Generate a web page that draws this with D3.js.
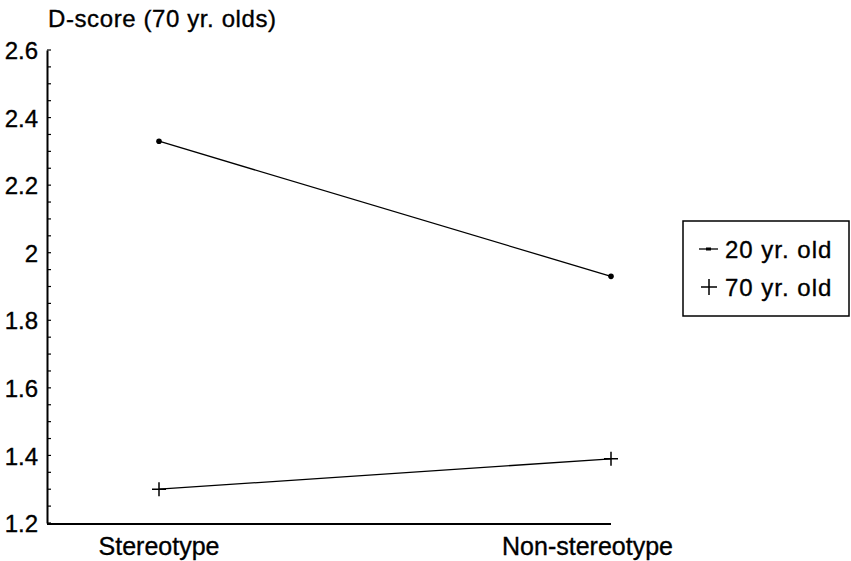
<!DOCTYPE html>
<html>
<head>
<meta charset="utf-8">
<script src="https://cdn.jsdelivr.net/npm/d3@7"></script>
<style>
  body { margin: 0; background: #fff; }
  svg text { font-family: "Liberation Sans", Arial, sans-serif; fill: #000; stroke: #000; stroke-width: 0.35; }
</style>
</head>
<body>
<svg width="851" height="561"></svg>
<script>
let conditions = ["Stereotype", "Non-stereotype"];
let young = [2.33, 1.93];   // 20 yr. old
let old = [1.30, 1.39];     // 70 yr. old
let seriesNames = ["20 yr. old", "70 yr. old"];
let yTicks = [1.2, 1.4, 1.6, 1.8, 2, 2.2, 2.4, 2.6];

let s = d3.select("svg");

let x = d3.scalePoint().domain(conditions).range([159, 611]);
let y = d3.scaleLinear().domain([1.2, 2.6]).range([523, 50]);

// titre axe y
s.append("text")
    .attr("x", 48)
    .attr("y", 27)
    .attr("font-size", 24)
    .attr("letter-spacing", 0.6)
    .text("D-score (70 yr. olds)");

// axe y
let yAxis = s.append("g")
    .attr("transform", "translate(47,0)")
    .call(d3.axisLeft(y).tickValues(yTicks).tickSize(0).tickPadding(9)
        .tickFormat(d => d3.format("")(d)));
yAxis.select(".domain").attr("stroke", "#000").attr("stroke-width", 2);
yAxis.selectAll("text")
    .attr("font-size", 24)
    .attr("dy", "0.36em")
    .style("font-family", "'Liberation Sans', Arial, sans-serif");

// petits traits vers l'intérieur
let minor = d3.range(1.2, 2.601, 0.05);
s.append("g").selectAll("line")
    .data(minor)
    .join("line")
    .attr("x1", 47)
    .attr("x2", 51)
    .attr("y1", d => y(d))
    .attr("y2", d => y(d))
    .attr("stroke", "#000")
    .attr("stroke-width", 1.2);

// axe x
s.append("line")
    .attr("x1", 47)
    .attr("x2", x("Non-stereotype"))
    .attr("y1", y(1.2) + 1)
    .attr("y2", y(1.2) + 1)
    .attr("stroke", "#000")
    .attr("stroke-width", 2);

let labelShift = { "Stereotype": 0, "Non-stereotype": -23.5 };
s.append("g").selectAll("text")
    .data(conditions)
    .join("text")
    .attr("x", d => x(d) + labelShift[d])
    .attr("y", 555)
    .attr("text-anchor", "middle")
    .attr("font-size", 25)
    .text(d => d);

// lignes
let line = d3.line()
    .x((d, i) => x(conditions[i]))
    .y(d => y(d));

s.append("path")
    .datum(young)
    .attr("d", line)
    .attr("fill", "none")
    .attr("stroke", "#000")
    .attr("stroke-width", 1.3);

s.append("path")
    .datum(old)
    .attr("d", line)
    .attr("fill", "none")
    .attr("stroke", "#000")
    .attr("stroke-width", 1.3);

// marqueurs (20 ans)
s.append("g").selectAll("circle")
    .data(young)
    .join("circle")
    .attr("cx", (d, i) => x(conditions[i]))
    .attr("cy", d => y(d))
    .attr("r", 2.8)
    .attr("fill", "#000");

// marqueurs plus (70 ans)
let plus = (cx, cy, r) => `M${cx - r},${cy} L${cx + r},${cy} M${cx},${cy - r} L${cx},${cy + r}`;
s.append("g").selectAll("path")
    .data(old)
    .join("path")
    .attr("d", (d, i) => plus(x(conditions[i]), y(d), 7))
    .attr("stroke", "#000")
    .attr("stroke-width", 1.5);

// légende
s.append("rect")
    .attr("x", 683)
    .attr("y", 221)
    .attr("width", 166)
    .attr("height", 95)
    .attr("fill", "none")
    .attr("stroke", "#000")
    .attr("stroke-width", 1.5);

let legendY = [249, 287];
s.append("line")
    .attr("x1", 699).attr("x2", 718)
    .attr("y1", legendY[0]).attr("y2", legendY[0])
    .attr("stroke", "#000").attr("stroke-width", 1.3);
s.append("rect")
    .attr("x", 706).attr("y", legendY[0] - 1.5)
    .attr("width", 5).attr("height", 3)
    .attr("fill", "#000");
s.append("path")
    .attr("d", plus(709, legendY[1], 8))
    .attr("stroke", "#000").attr("stroke-width", 1.5);

s.append("g").selectAll("text")
    .data(seriesNames)
    .join("text")
    .attr("x", 725)
    .attr("y", (d, i) => legendY[i] + 9)
    .attr("font-size", 24)
    .attr("letter-spacing", 1)
    .text(d => d);
</script>
</body>
</html>
